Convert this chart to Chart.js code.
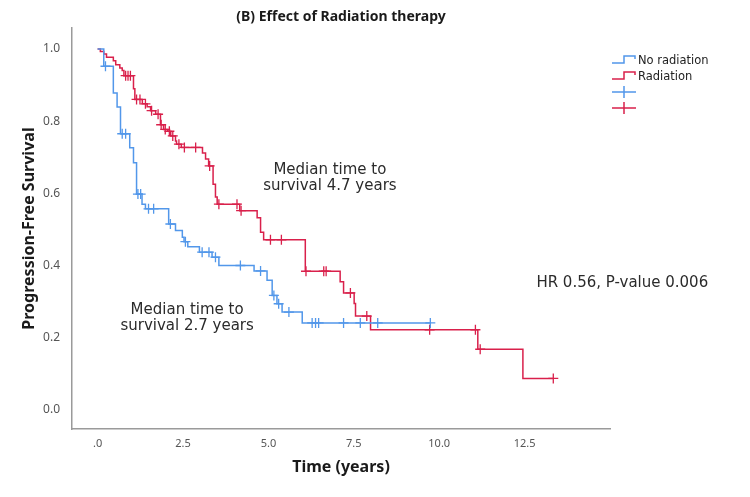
<!DOCTYPE html>
<html>
<head>
<meta charset="utf-8">
<script src="https://cdn.jsdelivr.net/npm/chart.js@4.4.1/dist/chart.umd.min.js"></script>
<style>
  html, body { margin: 0; padding: 0; background: #fff; }
  #wrap { width: 750px; height: 497px; }
</style>
</head>
<body>
<div id="wrap"><canvas id="kmChart" width="750" height="497"></canvas></div>
<script>
// ---- data ----
var noRadTimes = [0, 0.18, 0.46, 0.57, 0.67, 0.94, 1.05, 1.14, 1.30, 1.40, 2.08, 2.28, 2.48, 2.53, 2.64, 2.98, 3.35, 3.55, 4.58, 4.96, 5.11, 5.25, 5.40, 5.99, 9.74];
var noRadSurv  = [1.0, 0.952, 0.878, 0.839, 0.765, 0.726, 0.685, 0.598, 0.57, 0.557, 0.515, 0.497, 0.478, 0.466, 0.452, 0.437, 0.423, 0.40, 0.385, 0.359, 0.317, 0.294, 0.271, 0.241, 0.241];
var noRadCensored = [0.23, 0.72, 0.82, 1.18, 1.26, 1.49, 1.64, 2.13, 2.57, 3.06, 3.26, 3.45, 4.18, 4.77, 5.16, 5.30, 5.60, 6.28, 6.38, 6.47, 7.20, 7.69, 8.20, 9.74];

var radTimes = [0, 0.08, 0.18, 0.26, 0.46, 0.53, 0.65, 0.72, 0.77, 1.05, 1.09, 1.31, 1.45, 1.55, 1.70, 1.84, 1.93, 2.05, 2.14, 2.28, 2.31, 2.45, 3.07, 3.16, 3.25, 3.38, 3.45, 3.50, 4.16, 4.67, 4.77, 4.86, 6.08, 7.10, 7.20, 7.51, 7.55, 7.99, 11.13, 12.45, 13.34];
var radSurv  = [1.0, 0.993, 0.986, 0.977, 0.967, 0.956, 0.947, 0.94, 0.926, 0.89, 0.86, 0.848, 0.84, 0.829, 0.819, 0.79, 0.777, 0.772, 0.759, 0.745, 0.736, 0.727, 0.712, 0.695, 0.676, 0.625, 0.59, 0.57, 0.552, 0.532, 0.492, 0.471, 0.384, 0.355, 0.324, 0.295, 0.26, 0.222, 0.168, 0.087, 0.087];
var radCensored = [0.82, 0.89, 0.96, 1.14, 1.24, 1.40, 1.58, 1.77, 1.86, 1.98, 2.10, 2.20, 2.38, 2.54, 2.87, 3.28, 3.55, 4.08, 4.20, 5.06, 5.38, 6.10, 6.62, 6.69, 7.40, 7.88, 9.72, 11.06, 11.20, 13.34];

var xTicks = [0, 2.5, 5.0, 7.5, 10.0, 12.5];
var yTicks = [0, 0.2, 0.4, 0.6, 0.8, 1.0];

var seriesLabels = ['No radiation', 'Radiation'];
var blue = '#5297ea';
var red = '#d9204b';

// step curve points
function curve(times, surv) {
	return times.map(function (t, i) { return {x: t, y: surv[i]}; });
}
// censor marks sit on the curve level at that time
function censorPoints(times, surv, cens) {
	return cens.map(function (c) {
		var lvl = surv[0];
		for (var i = 0; i < times.length; i++) {
			if (times[i] <= c) lvl = surv[i];
		}
		return {x: c, y: lvl};
	});
}

var FONT = '"Noto Sans", "DejaVu Sans", sans-serif';
var NOTE_FONT = '"DejaVu Sans", sans-serif';

/*---- title, notes and legend drawn on top ----*/
var overlay = {
	id: 'overlay',
	afterDraw: function (chart) {
		var ctx = chart.ctx;
		var a = chart.chartArea;
		var xs = chart.scales.x, ys = chart.scales.y;
		ctx.save();
		ctx.textBaseline = 'middle';

		ctx.fillStyle = '#1a1a1a';
		ctx.textAlign = 'center';
		ctx.font = 'bold 14px ' + FONT;
		ctx.fillText('(B) Effect of Radiation therapy', (a.left + a.right) / 2, 17);

		ctx.fillStyle = '#2b2b2b';
		ctx.font = '15px ' + NOTE_FONT;
		var cx = xs.getPixelForValue(6.8), cy = ys.getPixelForValue(0.642);
		ctx.fillText('Median time to', cx, cy - 8);
		ctx.fillText('survival 4.7 years', cx, cy + 8);
		cx = xs.getPixelForValue(2.62); cy = ys.getPixelForValue(0.255);
		ctx.fillText('Median time to', cx, cy - 8);
		ctx.fillText('survival 2.7 years', cx, cy + 8);
		ctx.fillText('HR 0.56, P-value 0.006', xs.getPixelForValue(15.36), ys.getPixelForValue(0.352));

		// legend
		var lx = 612, rows = [60, 76, 92, 108], cols = [blue, red];
		ctx.lineWidth = 1.5;
		ctx.textAlign = 'left';
		ctx.font = '11.5px ' + NOTE_FONT;
		for (var i = 0; i < 2; i++) {
			var y = rows[i];
			ctx.strokeStyle = cols[i];
			ctx.beginPath();
			ctx.moveTo(lx, y + 3);
			ctx.lineTo(lx + 12, y + 3);
			ctx.lineTo(lx + 12, y - 4);
			ctx.lineTo(lx + 23, y - 4);
			ctx.lineTo(lx + 23, y - 1);
			ctx.stroke();
			ctx.fillStyle = '#222';
			ctx.fillText(seriesLabels[i], lx + 26, y + 1);
		}
		for (var j = 0; j < 2; j++) {
			var yy = rows[2 + j];
			ctx.strokeStyle = cols[j];
			ctx.beginPath();
			ctx.moveTo(lx, yy); ctx.lineTo(lx + 24, yy);
			ctx.moveTo(lx + 12, yy - 6); ctx.lineTo(lx + 12, yy + 6);
			ctx.stroke();
		}
		ctx.restore();
	}
};

var kmCanvas = document.getElementById('kmChart').getContext('2d');

var config = {
	type: 'scatter',
	data: {
		datasets: [{
			label: seriesLabels[0],
			data: curve(noRadTimes, noRadSurv),
			showLine: true,
			stepped: 'before',
			borderColor: blue,
			borderWidth: 1.5,
			pointRadius: 0
		}, {
			label: seriesLabels[1],
			data: curve(radTimes, radSurv),
			showLine: true,
			stepped: 'before',
			borderColor: red,
			borderWidth: 1.5,
			pointRadius: 0
		}, {
			label: seriesLabels[0] + ' censored',
			data: censorPoints(noRadTimes, noRadSurv, noRadCensored),
			pointStyle: 'cross',
			pointRadius: 5,
			borderColor: blue,
			pointBorderWidth: 1.3
		}, {
			label: seriesLabels[1] + ' censored',
			data: censorPoints(radTimes, radSurv, radCensored),
			pointStyle: 'cross',
			pointRadius: 5,
			borderColor: red,
			pointBorderWidth: 1.3
		}]
	},
	options: {
		responsive: false,
		animation: false,
		events: [],
		layout: { padding: { left: 0, right: 140, top: 28, bottom: 8 } },
		plugins: {
			legend: { display: false },
			title: { display: false },
			tooltip: { enabled: false }
		},
		scales: {
			x: {
				type: 'linear',
				min: -0.75,
				max: 15.0,
				afterFit: function (s) { s.height = 60; },
				afterBuildTicks: function (s) { s.ticks = xTicks.map(function (v) { return {value: v}; }); },
				grid: { display: false },
				border: { display: true, color: '#9a9a9a', width: 1.5 },
				ticks: {
					padding: 0,
					color: '#555',
					font: { family: FONT, size: 11 },
					callback: function (v) { return v === 0 ? '.0' : v.toFixed(1); }
				},
				title: {
					display: true,
					text: 'Time (years)',
					color: '#1a1a1a',
					font: { family: FONT, size: 16, weight: 'bold' },
					padding: { top: 0, bottom: 12 }
				}
			},
			y: {
				type: 'linear',
				min: -0.053,
				max: 1.058,
				afterFit: function (s) { s.width = 72; },
				afterBuildTicks: function (s) { s.ticks = yTicks.map(function (v) { return {value: v}; }); },
				grid: { display: false },
				border: { display: true, color: '#9a9a9a', width: 1.5 },
				ticks: {
					padding: 4,
					color: '#555',
					font: { family: FONT, size: 12 },
					callback: function (v) { return v.toFixed(1); }
				},
				title: {
					display: true,
					text: 'Progression-Free Survival',
					color: '#1a1a1a',
					font: { family: FONT, size: 16, weight: 'bold' },
					padding: { top: 20, bottom: 0 }
				}
			}
		}
	},
	plugins: [overlay]
};

var kmChart = new Chart(kmCanvas, config);
</script>
</body>
</html>
